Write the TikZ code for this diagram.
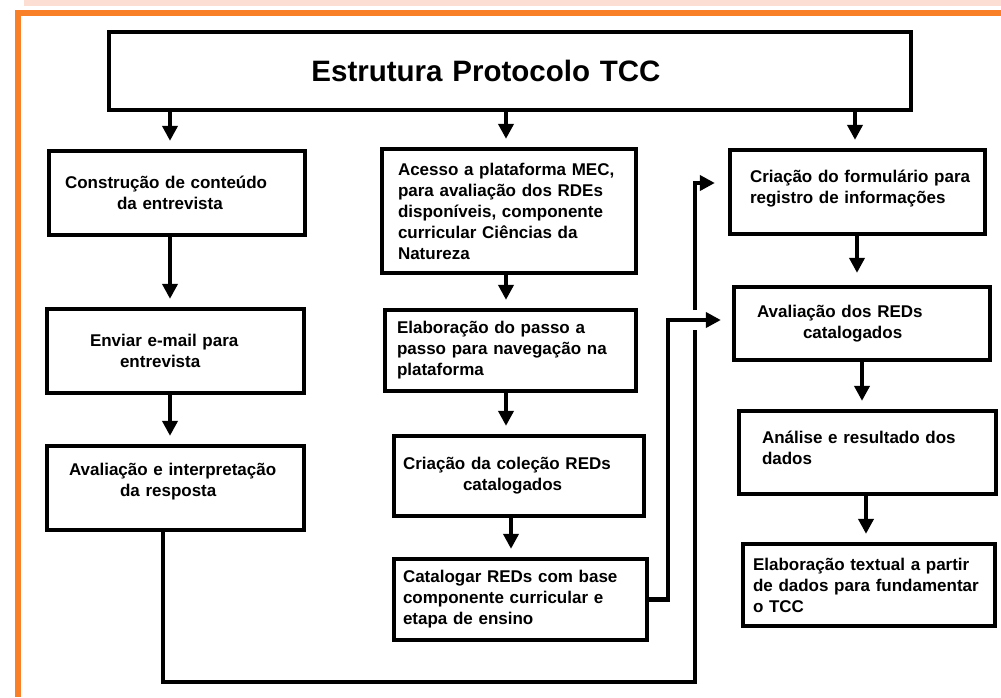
\documentclass[tikz,border=0pt]{standalone}
\usepackage{fontspec}
\setmainfont{Liberation Sans}
\usetikzlibrary{arrows.meta}
\definecolor{orangeframe}{RGB}{250,128,40}
\definecolor{pinkband}{RGB}{252,222,210}
\begin{document}
\begin{tikzpicture}[x=1pt,y=-1pt,
  box/.style={draw=black, line width=4.3pt, fill=white, rectangle, align=left,
    font=\fontsize{17}{21}\selectfont\bfseries, inner ysep=0pt, anchor=center},
  titlebox/.style={draw=black, line width=4.3pt, fill=white, rectangle, align=center,
    font=\fontsize{29.5}{34}\selectfont\bfseries, inner sep=0pt, anchor=center},
  conn/.style={line width=4.3pt, -{Triangle[width=15pt,length=15pt]}, shorten >=8pt},
  plain/.style={line width=4.3pt},
]
\useasboundingbox (0,0) rectangle (1001,697);
\fill[white] (0,0) rectangle (1001,697);
% frame
\fill[pinkband] (24,0) rectangle (1001,6);
\fill[orangeframe] (15,10) rectangle (1001,16);
\fill[orangeframe] (15,10) rectangle (21,697);

% title
\node[titlebox, minimum width=802pt, minimum height=78pt, text width=802pt] (title) at (510,71)
  {\mbox{Estrutura Protocolo TCC\hspace*{48pt}}};

% left column
\node[box, minimum width=256pt, minimum height=84pt, text width=224pt, inner xsep=16pt] (L1) at (177,193)
  {\mbox{Construção de conteúdo}\\\mbox{\hspace*{52pt}da entrevista}};
\node[box, minimum width=257pt, minimum height=84pt, text width=171pt, inner xsep=43pt] (L2) at (175.5,351)
  {\mbox{Enviar e-mail para}\\\mbox{\hspace*{30pt}entrevista}};
\node[box, minimum width=257pt, minimum height=84pt, text width=213pt, inner xsep=22pt] (L3) at (175.5,488)
  {\mbox{Avaliação e interpretação}\\\mbox{\hspace*{51pt}da resposta\rule[-16pt]{0pt}{1pt}}};

% middle column
\node[box, minimum width=254pt, minimum height=124pt, text width=222pt, inner xsep=16pt] (M1) at (509,211)
  {\mbox{Acesso a plataforma MEC,}\\\mbox{para avaliação dos RDEs}\\\mbox{disponíveis, componente}\\\mbox{curricular Ciências da}\\\mbox{Natureza}};
\node[box, minimum width=251pt, minimum height=81pt, text width=227pt, inner xsep=12pt] (M2) at (510.5,350.5)
  {\mbox{Elaboração do passo a}\\\mbox{passo para navegação na}\\\mbox{plataforma}};
\node[box, minimum width=250pt, minimum height=80pt, text width=232pt, inner xsep=9pt] (M3) at (519,476)
  {\mbox{Criação da coleção REDs}\\\mbox{\hspace*{60pt}catalogados}};
\node[box, minimum width=253pt, minimum height=81pt, text width=235pt, inner xsep=9pt] (M4) at (520.5,599.5)
  {\mbox{Catalogar REDs com base}\\\mbox{componente curricular e}\\\mbox{etapa de ensino}};

% right column
\node[box, minimum width=255pt, minimum height=84pt, text width=215pt, inner xsep=20pt] (R1) at (857.5,192)
  {\mbox{Criação do formulário para}\\\mbox{registro de informações\rule[-10pt]{0pt}{1pt}}};
\node[box, minimum width=256pt, minimum height=73pt, text width=210pt, inner xsep=23pt] (R2) at (862,323.5)
  {\mbox{Avaliação dos REDs}\\\mbox{\hspace*{46pt}catalogados}};
\node[box, minimum width=257pt, minimum height=83pt, text width=211pt, inner xsep=23pt] (R3) at (867.5,452.5)
  {\mbox{Análise e resultado dos}\\\mbox{dados\rule[-10pt]{0pt}{1pt}}};
\node[box, minimum width=252pt, minimum height=82pt, text width=232pt, inner xsep=10pt] (R4) at (869,585)
  {\mbox{Elaboração textual a partir}\\\mbox{de dados para fundamentar}\\\mbox{o TCC}};

% column coordinates
\coordinate (cL) at (170,0);
\coordinate (cM) at (506,0);
\coordinate (cM2) at (511,0);
\coordinate (cR1) at (855,0);
\coordinate (cR2) at (857,0);
\coordinate (cR3) at (862,0);
\coordinate (cR4) at (866,0);
\coordinate (lpB) at (163,682);
\coordinate (lpR) at (695,682);
\coordinate (gapLow) at (695,330);
\coordinate (gapHigh) at (695,310);
\coordinate (cC) at (668,320);

% connectors
\draw[conn] (title.south -| cL) -- (L1.north -| cL);
\draw[conn] (L1.south -| cL) -- (L2.north -| cL);
\draw[conn] (L2.south -| cL) -- (L3.north -| cL);

\draw[conn] (title.south -| cM) -- (M1.north -| cM);
\draw[conn] (M1.south -| cM) -- (M2.north -| cM);
\draw[conn] (M2.south -| cM) -- (M3.north -| cM);
\draw[conn] (M3.south -| cM2) -- (M4.north -| cM2);

\draw[conn] (title.south -| cR1) -- (R1.north -| cR1);
\draw[conn, shorten >=12pt] (R1.south -| cR2) -- (R2.north -| cR2);
\draw[conn] (R2.south -| cR3) -- (R3.north -| cR3);
\draw[conn] (R3.south -| cR4) -- (R4.north -| cR4);

% loop from left column to right column
\draw[plain] (L3.south -| lpB) -- (lpB) -- (lpR) -- (gapLow);
\draw[conn, shorten >=13pt] (gapHigh) |- ([yshift=9pt]R1.west);

% catalog path
\draw[conn, shorten >=11pt] (M4.east) -| (cC) -- (cC -| R2.west);
\end{tikzpicture}
\end{document}
